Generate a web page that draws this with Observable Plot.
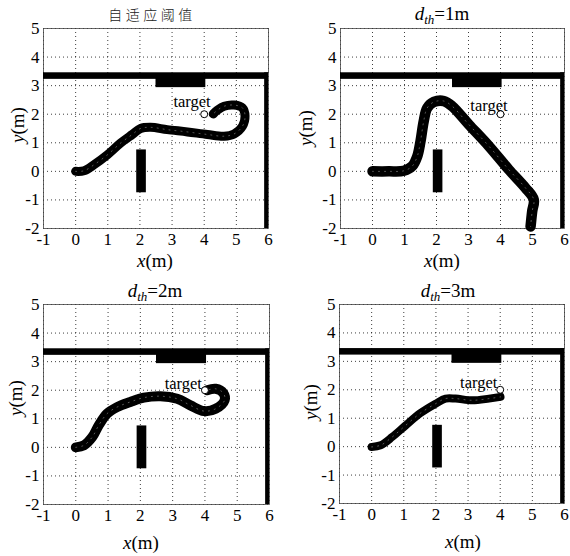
<!DOCTYPE html>
<html>
<head>
<meta charset="utf-8">
<script src="https://cdn.jsdelivr.net/npm/d3@7"></script>
<script src="https://cdn.jsdelivr.net/npm/@observablehq/plot@0.6"></script>
<style>
  html, body { margin: 0; padding: 0; background: #fff; }
  #root { position: relative; width: 570px; height: 556px; overflow: hidden; background: #fff; }
  #root svg, #root svg text { font-family: "Liberation Serif", "Times New Roman", Times, serif !important; }
  .panel { position: absolute; }
  .lbl { position: absolute; transform: translate(-50%, -50%); white-space: nowrap;
         font-family: "Liberation Serif", "Times New Roman", Times, serif; font-size: 19px; color: #000; line-height: 1; }
  .lbl i { font-family: "Liberation Serif", "Times New Roman", Times, serif; }
  .ylbl { transform: translate(-50%, -50%) rotate(-90deg); }
  .cn { font-family: "Noto Sans CJK SC", sans-serif; font-size: 14px; letter-spacing: 3.5px; color: #222; font-weight: 300; }
  sub { font-size: 13px; vertical-align: -4px; line-height: 0; }
</style>
</head>
<body>
<div id="root"></div>
<script>
// ---- data ----
const xTicks = [-1, 0, 1, 2, 3, 4, 5, 6];
const yTicks = [-2, -1, 0, 1, 2, 3, 4, 5];
const panelTitles = ["自适应阈值", "1m", "2m", "3m"];

// obstacles (walls and blocks): name, x1, x2, y1, y2
const obstacleNames = ["topWall", "rightWall", "topBlock", "post"];
const obstacleX1 = [-1, 5.88, 2.5, 1.9];
const obstacleX2 = [6, 6.0, 4.05, 2.2];
const obstacleY1 = [3.22, -2, 2.93, -0.75];
const obstacleY2 = [3.45, 3.45, 3.25, 0.75];

const targetX = 4;
const targetY = 2;
const targetLabel = "target";
const targetLabelX = [3.62, 3.64, 3.33, 3.33];
const targetLabelY = [2.45, 2.3, 2.22, 2.25];

// trajectories
const adaptiveX = [0, 0.26, 0.57, 0.99, 1.4, 1.76, 2.02, 2.33, 2.85, 3.48, 4.1, 4.62, 4.93, 5.19, 5.27, 5.19, 4.93, 4.62, 4.41, 4.28];
const adaptiveY = [0, 0.02, 0.23, 0.58, 0.99, 1.29, 1.5, 1.54, 1.46, 1.38, 1.29, 1.23, 1.31, 1.58, 1.93, 2.22, 2.32, 2.28, 2.14, 2.01];

const dth1X = [0, 0.51, 0.98, 1.24, 1.4, 1.5, 1.6, 1.71, 1.92, 2.23, 2.49, 3.01, 3.64, 4.26, 4.78, 5.04, 4.99, 4.94];
const dth1Y = [0, 0, 0.02, 0.18, 0.53, 1.05, 1.75, 2.22, 2.43, 2.46, 2.28, 1.64, 0.88, 0.06, -0.58, -0.99, -1.4, -1.93];

const dth2X = [0, 0.25, 0.51, 0.71, 0.97, 1.28, 1.69, 2.11, 2.62, 3.14, 3.55, 3.97, 4.33, 4.61, 4.57, 4.33, 4.07];
const dth2Y = [0, 0.07, 0.36, 0.77, 1.18, 1.41, 1.59, 1.74, 1.79, 1.7, 1.47, 1.27, 1.35, 1.65, 1.9, 2.05, 2.0];

const dth3X = [0, 0.28, 0.64, 1.06, 1.52, 1.99, 2.3, 2.61, 3.13, 3.65, 4.01];
const dth3Y = [-0.01, 0.05, 0.34, 0.75, 1.18, 1.51, 1.69, 1.69, 1.63, 1.69, 1.75];

// ---- build ----
const SERIF = "Liberation Serif, Times New Roman, serif";
const obstacles = obstacleNames.map((n, i) => ({name: n, x1: obstacleX1[i], x2: obstacleX2[i], y1: obstacleY1[i], y2: obstacleY2[i]}));
const toPts = (xs, ys) => xs.map((x, i) => ({x, y: ys[i]}));
const trajectories = [toPts(adaptiveX, adaptiveY), toPts(dth1X, dth1Y), toPts(dth2X, dth2Y), toPts(dth3X, dth3Y)];

const layouts = [
  {left: 0,   top: 0,   width: 285, height: 270, ml: 43, mr: 17, mt: 28, mb: 42, sw: 9,
   title: [152, 14], ylab: [17, 125], xlab: [155, 260]},
  {left: 285, top: 0,   width: 285, height: 270, ml: 55, mr: 6,  mt: 28, mb: 42, sw: 10.5,
   title: [442, 13], ylab: [305, 128], xlab: [442, 260]},
  {left: 0,   top: 276, width: 285, height: 280, ml: 43, mr: 16, mt: 28, mb: 52, sw: 10,
   title: [155, 290], ylab: [15, 398], xlab: [141, 542]},
  {left: 285, top: 276, width: 285, height: 280, ml: 54, mr: 6,  mt: 28, mb: 53, sw: 8,
   title: [448, 290], ylab: [310, 402], xlab: [463, 541]}
];

const root = document.getElementById("root");
const fmt = d => String(d);

layouts.forEach((L, i) => {
  const chart = Plot.plot({
    width: L.width, height: L.height,
    marginLeft: L.ml, marginRight: L.mr, marginTop: L.mt, marginBottom: L.mb,
    x: {domain: [-1, 6], label: null},
    y: {domain: [-2, 5], label: null},
    style: {fontFamily: SERIF, fontSize: "17px", color: "#000", background: "transparent", overflow: "visible"},
    marks: [
      Plot.gridX(xTicks, {stroke: "#000", strokeOpacity: 0.85, strokeDasharray: "1,3", strokeWidth: 0.9}),
      Plot.gridY(yTicks, {stroke: "#000", strokeOpacity: 0.85, strokeDasharray: "1,3", strokeWidth: 0.9}),
      Plot.frame({stroke: "#444", strokeWidth: 0.8}),
      Plot.rect(obstacles, {x1: "x1", x2: "x2", y1: "y1", y2: "y2", fill: "#000"}),
      Plot.line(trajectories[i], {x: "x", y: "y", stroke: "#000", strokeWidth: L.sw,
        strokeLinejoin: "round", strokeLinecap: "round", curve: "catmull-rom"}),
      Plot.line(trajectories[i], {x: "x", y: "y", stroke: "#999", strokeWidth: 1,
        strokeDasharray: "1,5", strokeOpacity: 0.6, curve: "catmull-rom"}),
      Plot.dot([{x: targetX, y: targetY}], {x: "x", y: "y", r: 3.5, stroke: "#000", fill: "#fff", strokeWidth: 1}),
      Plot.text([{x: targetLabelX[i], y: targetLabelY[i], t: targetLabel}], {x: "x", y: "y", text: "t",
        fontSize: 16.5, fill: "#000", fontFamily: SERIF}),
      Plot.axisX(xTicks, {tickSize: 0, tickPadding: 4, tickFormat: fmt, fontSize: 17, fontFamily: SERIF, label: null}),
      Plot.axisY(yTicks, {tickSize: 0, tickPadding: 4, tickFormat: fmt, fontSize: 17, fontFamily: SERIF, label: null})
    ]
  });
  const div = document.createElement("div");
  div.className = "panel";
  div.style.left = L.left + "px";
  div.style.top = L.top + "px";
  div.appendChild(chart);
  root.appendChild(div);

  // title
  const t = document.createElement("div");
  if (i === 0) {
    t.className = "lbl cn";
    t.textContent = panelTitles[i];
  } else {
    t.className = "lbl";
    t.innerHTML = "<i>d</i><sub><i>th</i></sub>=" + panelTitles[i];
  }
  t.style.left = L.title[0] + "px";
  t.style.top = L.title[1] + "px";
  root.appendChild(t);

  const yl = document.createElement("div");
  yl.className = "lbl ylbl";
  yl.innerHTML = "<i>y</i>(m)";
  yl.style.left = L.ylab[0] + "px";
  yl.style.top = L.ylab[1] + "px";
  root.appendChild(yl);

  const xl = document.createElement("div");
  xl.className = "lbl";
  xl.innerHTML = "<i>x</i>(m)";
  xl.style.left = L.xlab[0] + "px";
  xl.style.top = L.xlab[1] + "px";
  root.appendChild(xl);
});
</script>
</body>
</html>
